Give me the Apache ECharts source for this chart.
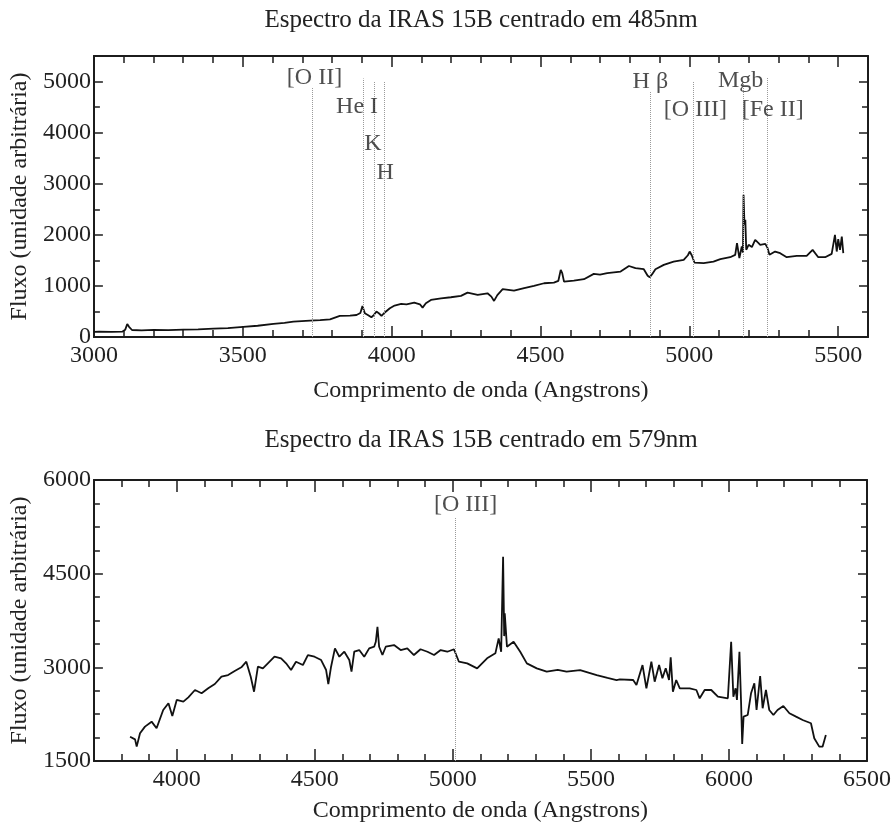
<!DOCTYPE html>
<html><head><meta charset="utf-8">
<script src="https://cdn.jsdelivr.net/npm/echarts@6/dist/echarts.min.js"></script>
<style>html,body{margin:0;padding:0;background:#fff}#c{width:894px;height:825px}</style>
</head><body><div id="c"></div>
<script>
const topTitle = 'Espectro da IRAS 15B centrado em 485nm';
const bottomTitle = 'Espectro da IRAS 15B centrado em 579nm';
const xName = 'Comprimento de onda (Angstrons)';
const yName = 'Fluxo (unidade arbitrária)';

// Top spectrum (centred at 485 nm)
const topWave = [3000,3017,3060,3095,3105,3112,3118,3128,3160,3201,3250,3301,3350,3402,3450,3502,3550,3603,3640,3670,3726,3760,3793,3826,3860,3882,3895,3902,3907,3910,3920,3932,3940,3949,3958,3966,3975,3994,4010,4032,4050,4076,4095,4104,4115,4132,4166,4199,4233,4255,4289,4322,4335,4344,4355,4373,4411,4445,4478,4512,4545,4560,4568,4573,4579,4612,4646,4679,4700,4724,4769,4797,4802,4819,4847,4860,4867,4875,4886,4914,4947,4981,4995,5001,5008,5017,5048,5081,5104,5137,5154,5160,5168,5176,5180,5182,5185,5188,5191,5199,5210,5216,5221,5230,5238,5255,5262,5269,5288,5305,5327,5361,5394,5414,5433,5456,5478,5489,5495,5500,5506,5512,5517];
const topFlux = [100,104,100,104,140,255,200,137,130,140,135,145,150,163,175,200,220,255,275,300,320,330,346,412,420,431,470,608,520,464,430,386,430,497,460,412,470,562,615,647,640,673,640,575,660,725,758,778,804,869,824,856,790,706,820,935,908,955,1000,1052,1065,1100,1314,1250,1085,1105,1131,1235,1220,1249,1280,1390,1412,1347,1327,1200,1170,1230,1327,1412,1477,1510,1600,1673,1600,1457,1445,1477,1523,1562,1608,1837,1543,1771,1650,2784,2200,2294,1706,1804,1760,1771,1902,1850,1804,1824,1750,1608,1673,1641,1562,1588,1588,1706,1562,1562,1627,2000,1673,1915,1706,1967,1641];

// Bottom spectrum (centred at 579 nm)
const botWave = [3831,3849,3855,3867,3885,3909,3927,3951,3970,3984,4000,4024,4042,4066,4090,4114,4138,4162,4186,4210,4234,4252,4268,4280,4294,4312,4330,4354,4378,4396,4414,4432,4457,4475,4499,4523,4541,4549,4559,4573,4589,4607,4625,4633,4643,4661,4679,4697,4715,4721,4727,4733,4745,4757,4787,4811,4835,4859,4883,4908,4932,4956,4980,5004,5022,5052,5088,5124,5154,5166,5175,5182,5186,5188,5196,5220,5244,5268,5304,5340,5380,5412,5461,5521,5560,5593,5605,5653,5665,5687,5701,5719,5731,5747,5759,5771,5783,5789,5797,5809,5822,5858,5882,5894,5912,5936,5960,5996,6008,6016,6024,6029,6038,6044,6048,6053,6068,6080,6092,6100,6113,6122,6134,6146,6161,6176,6197,6219,6243,6267,6297,6309,6327,6339,6351];
const botFlux = [1889,1847,1730,1943,2050,2130,2024,2317,2424,2221,2477,2450,2520,2637,2584,2664,2733,2850,2877,2941,3000,3090,2850,2610,3010,2984,3064,3170,3144,3064,2957,3090,3037,3197,3170,3117,2957,2733,3010,3304,3170,3250,3117,2930,3250,3277,3170,3304,3330,3410,3650,3330,3197,3330,3357,3277,3304,3197,3290,3250,3197,3277,3250,3290,3090,3064,2984,3144,3224,3464,3250,4772,3500,3864,3330,3410,3250,3064,2984,2930,2960,2930,2957,2877,2830,2797,2808,2797,2717,3037,2664,3090,2770,3037,2824,2984,2797,3160,2610,2797,2664,2664,2637,2504,2637,2637,2530,2504,3410,2530,2664,2477,3250,2424,1772,2210,2237,2584,2744,2317,2861,2344,2637,2317,2237,2317,2381,2264,2210,2157,2104,1864,1730,1730,1917];

// Identified lines
const topLineNames = ['[O II]','He I','K','H','H β','[O III]','Mgb','[Fe II]'];
const topLineWave = [3734,3903,3940,3976,4867,5012,5180,5260];
const topLineTop = [4880,5060,5000,5000,4810,5000,5000,5080];
const topLabelX = [3741,3884,3937,3978,4869,5020,5172,5280];
const topLabelY = [5080,4500,3775,3216,4990,4450,5010,4450];
const botLineNames = ['[O III]'];
const botLineWave = [5010];
const botLineTop = [5400];
const botLabelX = [5046];
const botLabelY = [5600];

// Ticks
const topXTicks = [3000,3500,4000,4500,5000,5500];
const topYTicks = [0,1000,2000,3000,4000,5000];
const botXTicks = [4000,4500,5000,5500,6000,6500];
const botYTicks = [1500,3000,4500,6000];

const FONT = 'Liberation Serif';
const AX = '#1c1c1c';
const TXT = '#222222';
const fmt = v => String(v);

function baseAxis(grid, min, max, pos, primary) {
  return {
    gridIndex: grid, type: 'value', position: pos, min: min, max: max,
    splitLine: {show: false},
    axisLine: {show: true, onZero: false, lineStyle: {color: AX, width: primary ? 2 : 0.01}},
    axisLabel: {show: false}
  };
}
function withTicks(ax, spec, len) {
  const t = {show: true, inside: true, length: len, lineStyle: {color: AX, width: 1.5}};
  if (spec.values) t.customValues = spec.values; else ax.interval = spec.interval;
  ax.axisTick = t;
  return ax;
}
function xLabels(ax, values, gap) {
  ax.axisLabel = {show: true, customValues: values, formatter: fmt, margin: 7, color: TXT, fontFamily: FONT, fontSize: 24};
  ax.name = xName; ax.nameLocation = 'middle'; ax.nameGap = gap;
  ax.nameTextStyle = {color: TXT, fontFamily: FONT, fontSize: 24};
  return ax;
}
function yLabels(ax, values) {
  ax.axisLabel = {show: true, customValues: values, formatter: fmt, margin: 3, color: TXT, fontFamily: FONT, fontSize: 24};
  ax.name = yName; ax.nameLocation = 'middle'; ax.nameGap = 56; ax.nameRotate = 90;
  ax.nameTextStyle = {color: TXT, fontFamily: FONT, fontSize: 24};
  return ax;
}

const xAxes = [
  xLabels(withTicks(baseAxis(0, 3000, 5600, 'bottom', true), {interval: 500}, 11), topXTicks, 42),
  withTicks(baseAxis(0, 3000, 5600, 'bottom', false), {interval: 100}, 7),
  withTicks(baseAxis(0, 3000, 5600, 'top', true), {interval: 500}, 11),
  withTicks(baseAxis(0, 3000, 5600, 'top', false), {interval: 100}, 7),
  xLabels(withTicks(baseAxis(1, 3700, 6500, 'bottom', true), {values: botXTicks}, 12), botXTicks, 38),
  withTicks(baseAxis(1, 3700, 6500, 'bottom', false), {interval: 100}, 7),
  withTicks(baseAxis(1, 3700, 6500, 'top', true), {values: botXTicks}, 12),
  withTicks(baseAxis(1, 3700, 6500, 'top', false), {interval: 100}, 7)
];
const yAxes = [
  yLabels(withTicks(baseAxis(0, 0, 5500, 'left', true), {interval: 1000}, 9), topYTicks),
  withTicks(baseAxis(0, 0, 5500, 'left', false), {interval: 500}, 6),
  withTicks(baseAxis(0, 0, 5500, 'right', true), {interval: 1000}, 9),
  withTicks(baseAxis(0, 0, 5500, 'right', false), {interval: 500}, 6),
  yLabels(withTicks(baseAxis(1, 1500, 6000, 'left', true), {interval: 1500}, 9), botYTicks),
  withTicks(baseAxis(1, 1500, 6000, 'left', false), {interval: 375}, 6),
  withTicks(baseAxis(1, 1500, 6000, 'right', true), {interval: 1500}, 9),
  withTicks(baseAxis(1, 1500, 6000, 'right', false), {interval: 375}, 6)
];

function lineMarks(waves, tops, bottom) {
  return {
    silent: true, symbol: 'none', animation: false,
    label: {show: false},
    lineStyle: {type: 'dotted', color: '#9a9a9a', width: 1},
    data: waves.map((w, i) => [{coord: [w, bottom]}, {coord: [w, tops[i]]}])
  };
}
function labelSeries(xi, yi, xs, ys, names) {
  return {
    type: 'scatter', xAxisIndex: xi, yAxisIndex: yi, silent: true, z: 5,
    symbolSize: 1, itemStyle: {color: 'rgba(0,0,0,0)'},
    label: {show: true, position: 'inside', formatter: '{b}', color: TXT, fontFamily: FONT, fontSize: 24},
    data: xs.map((x, i) => ({name: names[i], value: [x, ys[i]]}))
  };
}

const option = {
  animation: false,
  backgroundColor: '#ffffff',
  textStyle: {fontFamily: FONT},
  grid: [
    {left: 92, top: 56, width: 776, height: 281},
    {left: 92, top: 480, width: 776, height: 281}
  ],
  graphic: [
    {type: 'text', x: 481, y: 20, style: {text: topTitle, align: 'center', verticalAlign: 'middle', font: '25px "Liberation Serif"', fill: TXT}},
    {type: 'text', x: 481, y: 440, style: {text: bottomTitle, align: 'center', verticalAlign: 'middle', font: '25px "Liberation Serif"', fill: TXT}}
  ],
  xAxis: xAxes,
  yAxis: yAxes,
  series: [
    {type: 'line', xAxisIndex: 0, yAxisIndex: 0, symbol: 'none', z: 3,
     lineStyle: {color: '#111', width: 1.8},
     data: topWave.map((w, i) => [w, topFlux[i]]),
     markLine: lineMarks(topLineWave, topLineTop, 0)},
    labelSeries(0, 0, topLabelX, topLabelY, topLineNames),
    {type: 'line', xAxisIndex: 4, yAxisIndex: 4, symbol: 'none', z: 3,
     lineStyle: {color: '#111', width: 1.8},
     data: botWave.map((w, i) => [w, botFlux[i]]),
     markLine: lineMarks(botLineWave, botLineTop, 1500)},
    labelSeries(4, 4, botLabelX, botLabelY, botLineNames)
  ]
};
const chart = echarts.init(document.getElementById('c'), null, {renderer: 'canvas'});
chart.setOption(option);
</script>
</body></html>
